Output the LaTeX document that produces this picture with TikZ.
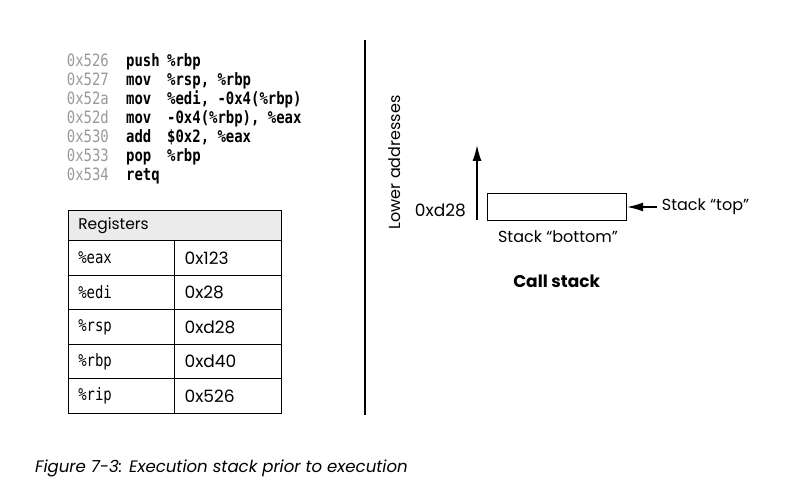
\documentclass[tikz,border=0pt]{standalone}
\usepackage{fontspec}
\setmainfont{Poppins}
\setmonofont[FakeStretch=0.82]{DejaVu Sans Mono}
\usetikzlibrary{arrows.meta,positioning}
\definecolor{addrgray}{gray}{0.6}
\definecolor{headgray}{gray}{0.92}

\begin{document}
\begin{tikzpicture}[x=1pt,y=-1pt]
\tikzset{code/.style = {anchor=base west,inner sep=0pt,font=\fontsize{17}{18}\selectfont\ttfamily}}
\tikzset{cell/.style = {draw,line width=0.8pt,minimum height=34.5pt,text width=86.4pt,inner xsep=10pt,inner ysep=0pt,align=left}}
\tikzset{label/.style = {inner sep=0pt,font=\fontsize{16}{18}\selectfont}}
\tikzset{edge/.style = {line width=1.5pt,-{Latex[length=16pt,width=9pt]}}}
\useasboundingbox (0,0) rectangle (798,497);
% code listing
\foreach \addr/\op/\args [count=\i] in {0x526/push/{\%rbp},
    0x527/mov/{\%rsp, \%rbp}, 0x52a/mov/{\%edi, -0x4(\%rbp)},
    0x52d/mov/{-0x4(\%rbp), \%eax}, 0x530/add/{\$0x2, \%eax},
    0x533/pop/{\%rbp}, 0x534/retq/{}} {
  \node[code,text=addrgray] (a\i) at (66.7,{47.15+19.05*\i}) {\addr};
  \node[code,font=\fontsize{17}{18}\selectfont\ttfamily\bfseries] (m\i) at (126,{47.15+19.05*\i}) {\op};
  \node[code,font=\fontsize{17}{18}\selectfont\ttfamily\bfseries] (o\i) at (167,{47.15+19.05*\i}) {\args};
}
% registers
\node[cell,text width=192.7pt,minimum height=30.7pt,fill=headgray,font=\fontsize{15.5}{18}\selectfont] (regs) at (174.65,225.35) {Registers};
\foreach \reg/\val [count=\i] in {eax/0x123, edi/0x28, rsp/0xd28, rbp/0xd40, rip/0x526} {
  \node[cell,font=\fontsize{17}{18}\selectfont\ttfamily] (r\reg) at (121.5,{223.45+34.5*\i}) {\%\reg};
  \node[cell,font=\fontsize{17}{18}\selectfont] (v\reg) at (227.85,{223.45+34.5*\i}) {\val};
}
% divider
\coordinate (divtop) at (365,40);
\coordinate (divbot) at (365,415);
\draw[line width=1.2pt] (divtop) -- (divbot);
% call stack
\node[draw,line width=0.8pt,minimum width=139pt,minimum height=27.4pt] (top) at (557.2,207) {};
\coordinate (lowstart) at (477,220);
\coordinate (lowend) at (477,145);
\draw[edge] (lowstart) -- (lowend);
\node[label,rotate=90] (lower) at (395,162.5) {Lower addresses};
\node[label,anchor=east,font=\fontsize{17}{18}\selectfont] (sp) at (466,210) {0xd28};
\node[label,anchor=west] (toplabel) at (661.7,207) {Stack “top”};
\draw[edge,shorten <=5pt] (toplabel.west) -- (top.east);
\node[label] (bottom) at (558,237) {Stack “bottom”};
\node[label,font=\fontsize{17}{18}\selectfont\bfseries] (callstack) at (556.7,281.7) {Call stack};
% caption
\node[label,anchor=west,font=\fontsize{16.6}{18}\selectfont\itshape] (caption) at (35,468) {Figure 7-3: Execution stack prior to execution};
\end{tikzpicture}
\end{document}
